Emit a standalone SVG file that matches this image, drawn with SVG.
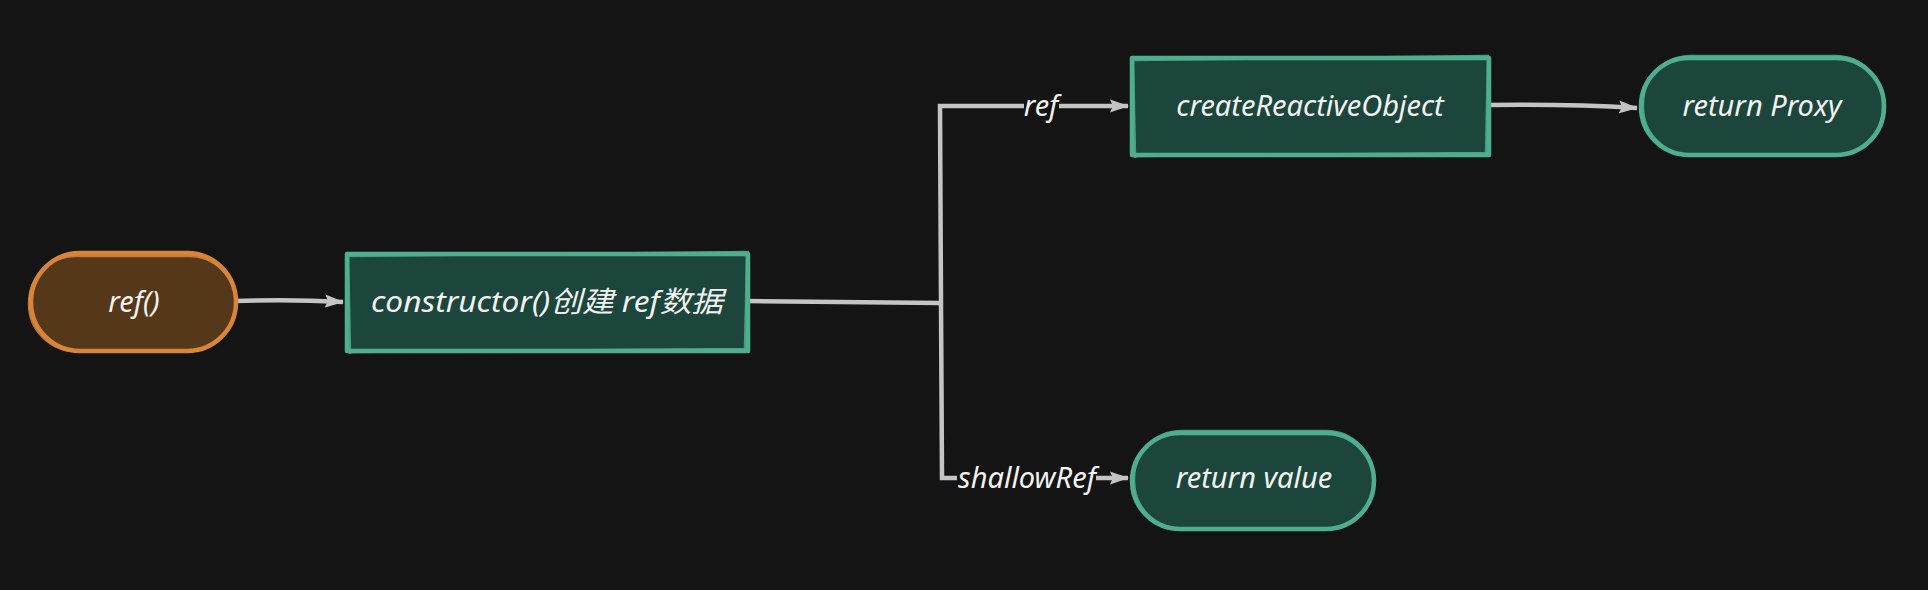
<svg xmlns="http://www.w3.org/2000/svg" width="1928" height="590" viewBox="0 0 1928 590">
<defs>
<marker id="ah" markerWidth="20" markerHeight="16" refX="18" refY="8" orient="auto" markerUnits="userSpaceOnUse">
<path d="M0,1.5 L19,8 L0,14.5 L3,8 Z" fill="#c4c4c4"/>
</marker>
</defs>
<style>
.bg{fill:#141414}
.g{fill:#1c463b;stroke:#4fae91;stroke-width:4.5;stroke-linejoin:round}
.g2{fill:none;stroke:#4fae91;stroke-width:2.5;opacity:.85}
.o{fill:#553719;stroke:#d8853a;stroke-width:4.5}
.o2{fill:none;stroke:#d8853a;stroke-width:2.5;opacity:.85}
.t{font-family:"Noto Sans","Noto Sans CJK SC",sans-serif;font-style:italic;fill:#f2f2f2;font-size:29px;text-anchor:middle;dominant-baseline:central}
.c{fill:none;stroke:#c4c4c4;stroke-width:4.5;stroke-linejoin:miter}
</style>
<rect class="bg" x="0" y="0" width="1928" height="590"/>

<g id="connectors">
<path class="c" d="M236,301 Q290,299 343,302" marker-end="url(#ah)"/>
<path class="c" d="M748,301 L941,303"/>
<path class="c" d="M941,303 L940,106 L1128,106" marker-end="url(#ah)"/>
<path class="c" d="M941,303 L942,478 L1128,478" marker-end="url(#ah)"/>
<path class="c" d="M1489,105 Q1570,104 1637,108" marker-end="url(#ah)"/>
<rect class="bg" x="1024" y="90" width="35" height="32"/>
<text class="t" x="1041" y="104">ref</text>
<rect class="bg" x="957" y="462" width="139" height="32"/>
<text class="t" x="1027" y="476">shallowRef</text>
</g>

<g id="node-ref">
<rect class="o" x="31" y="253" width="205" height="98" rx="49"/>
<rect class="o2" x="29" y="256" width="207" height="95" rx="47"/>
<text class="t" x="134" y="300">ref()</text>
</g>

<g id="node-constructor">
<rect class="g" x="347" y="254" width="401" height="97"/>
<path class="g2" d="M345,256 L749,252 M351,352 L746,349 M348,252 L350,354 M747,254 L745,351"/>
<text class="t" x="547" y="300" textLength="352" lengthAdjust="spacingAndGlyphs">constructor()创建 ref数据</text>
</g>

<g id="node-createReactiveObject">
<rect class="g" x="1132" y="58" width="357" height="97"/>
<path class="g2" d="M1130,60 L1489,56 M1136,156 L1487,153 M1133,56 L1135,158 M1488,58 L1486,155"/>
<text class="t" x="1310" y="104">createReactiveObject</text>
</g>

<g id="node-returnProxy">
<rect class="g" x="1641" y="58" width="243" height="97" rx="48"/>
<rect class="g2" x="1643" y="56" width="240" height="99" rx="48"/>
<text class="t" x="1762" y="104">return Proxy</text>
</g>

<g id="node-returnValue">
<rect class="g" x="1132" y="433" width="242" height="96" rx="48"/>
<rect class="g2" x="1134" y="431" width="240" height="98" rx="48"/>
<text class="t" x="1254" y="476">return value</text>
</g>
</svg>
